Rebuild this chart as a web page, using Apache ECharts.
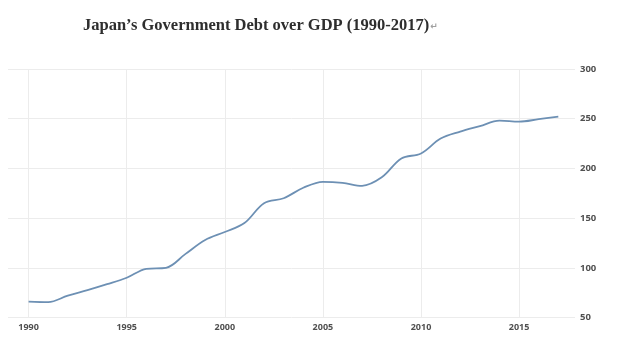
<!DOCTYPE html>
<html>
<head>
<meta charset="utf-8">
<style>
  html, body { margin: 0; padding: 0; background: #ffffff; }
  #chart { width: 626px; height: 345px; }
</style>
<script src="https://cdn.jsdelivr.net/npm/echarts@6/dist/echarts.min.js"></script>
</head>
<body>
<div id="chart"></div>
<script>
// Japan's general government debt, % of GDP
const years = [1990, 1991, 1992, 1993, 1994, 1995, 1996, 1997, 1998, 1999,
               2000, 2001, 2002, 2003, 2004, 2005, 2006, 2007, 2008, 2009,
               2010, 2011, 2012, 2013, 2014, 2015, 2016, 2017];
const debtRatio = [66, 65.5, 72, 77.5, 83.5, 90, 99, 100, 114, 128,
                   136, 145, 165, 170, 180.5, 186.5, 185.5, 182.5, 191, 210,
                   215, 230, 237, 242.5, 248, 247, 249.5, 252];
const yearTicks = [1990, 1995, 2000, 2005, 2010, 2015];
const titleText = 'Japan\u2019s Government Debt over GDP (1990-2017)';

const chart = echarts.init(document.getElementById('chart'), null, { renderer: 'canvas' });

chart.setOption({
  animation: false,
  backgroundColor: '#ffffff',
  title: {
    text: '{t|' + titleText + '}{m|\u21b5}',
    left: 78,
    top: 12,
    textStyle: {
      rich: {
        t: {
          fontFamily: '"Liberation Serif", "Times New Roman", serif',
          fontWeight: 'bold',
          fontSize: 16.5,
          color: '#2e2e2e'
        },
        m: {
          fontFamily: '"DejaVu Sans", sans-serif',
          fontSize: 9,
          color: '#a0a0a0',
          padding: [3, 0, 0, 1]
        }
      }
    }
  },
  grid: { left: 8, right: 51, top: 69, bottom: 27.5, containLabel: false },
  xAxis: {
    type: 'value',
    min: 1988.95,
    max: 2017.85,
    axisLine: { show: false },
    axisTick: { show: false, customValues: yearTicks },
    axisLabel: {
      customValues: yearTicks,
      color: '#505050',
      fontFamily: '"Open Sans", "DejaVu Sans", sans-serif',
      fontSize: 9,
      fontWeight: 'bold',
      margin: 5,
      formatter: v => String(v)
    },
    splitLine: { show: true, lineStyle: { color: '#ececec', width: 1 } }
  },
  yAxis: {
    type: 'value',
    position: 'right',
    min: 50,
    max: 300,
    interval: 50,
    axisLine: { show: false },
    axisTick: { show: false },
    axisLabel: {
      color: '#505050',
      fontFamily: '"Open Sans", "DejaVu Sans", sans-serif',
      fontSize: 9.5,
      fontWeight: 'bold',
      margin: 5
    },
    splitLine: { show: true, lineStyle: { color: '#ececec', width: 1 } }
  },
  series: [{
    type: 'line',
    data: years.map((y, i) => [y, debtRatio[i]]),
    smooth: 0.35,
    showSymbol: false,
    lineStyle: { color: '#6d90b4', width: 1.8 }
  }]
});
</script>
</body>
</html>
